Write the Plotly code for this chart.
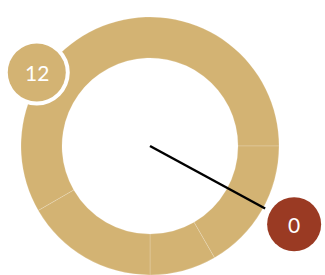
import math
import plotly.graph_objects as go

# data
segment_hours = [7, 2, 1, 2]          # clock segments, clockwise from 8 o'clock
segment_start_hour = 8
hand_hour = 3.95
badge_labels = ["12", "0"]
badge_angles = [303, 118.5]           # degrees clockwise from 12 o'clock
badge_colors = ["#D3B373", "#9A3A23"]

W, H = 325, 275
cx, cy = 150, 146
R_out, R_in = 129, 88

def pos(angle_deg, r):
    a = math.radians(angle_deg)
    return cx + r * math.sin(a), cy - r * math.cos(a)

fig = go.Figure()
fig.add_trace(go.Pie(
    values=segment_hours, sort=False, direction="clockwise",
    rotation=segment_start_hour * 30 - 360,
    hole=R_in / R_out, textinfo="none", hoverinfo="skip",
    marker=dict(colors=["#D3B373"] * len(segment_hours),
                line=dict(color="rgba(255,255,255,0.3)", width=0.6)),
    domain=dict(x=[(cx - R_out) / W, (cx + R_out) / W], y=[0, 2 * R_out / H]),
    showlegend=False,
))

shapes = []
annotations = []
hx, hy = pos(hand_hour * 30, 131)
shapes.append(dict(type="line", xref="x", yref="y", x0=cx, y0=cy, x1=hx, y1=hy,
                   line=dict(color="black", width=2.5), layer="above"))

b_r = [135, 164]
b_d = [58, 54]
b_border = [4, 0]
for lab, ang, col, rr, d, bw in zip(badge_labels, badge_angles, badge_colors, b_r, b_d, b_border):
    bx, by = pos(ang, rr)
    if bw:
        rb = d / 2 + bw
        shapes.append(dict(type="circle", xref="x", yref="y", x0=bx - rb, x1=bx + rb,
                           y0=by - rb, y1=by + rb, fillcolor="white",
                           line=dict(width=0), layer="above"))
    r0 = d / 2
    shapes.append(dict(type="circle", xref="x", yref="y", x0=bx - r0, x1=bx + r0,
                       y0=by - r0, y1=by + r0, fillcolor=col,
                       line=dict(width=0), layer="above"))
    annotations.append(dict(x=bx, y=by, xref="x", yref="y", text=lab, showarrow=False,
                            font=dict(color="white", size=21, family="Lato"),
                            xanchor="center", yanchor="middle"))

fig.add_trace(go.Scatter(x=[], y=[]))
fig.update_layout(
    width=W, height=H, margin=dict(l=0, r=0, t=0, b=0),
    paper_bgcolor="white", plot_bgcolor="rgba(0,0,0,0)", showlegend=False,
    xaxis=dict(range=[0, W], visible=False, fixedrange=True),
    yaxis=dict(range=[H, 0], visible=False, fixedrange=True),
    shapes=shapes, annotations=annotations,
)
fig.write_html("out.html", config={"displayModeBar": False},
               post_script="document.body.style.margin='0';")
